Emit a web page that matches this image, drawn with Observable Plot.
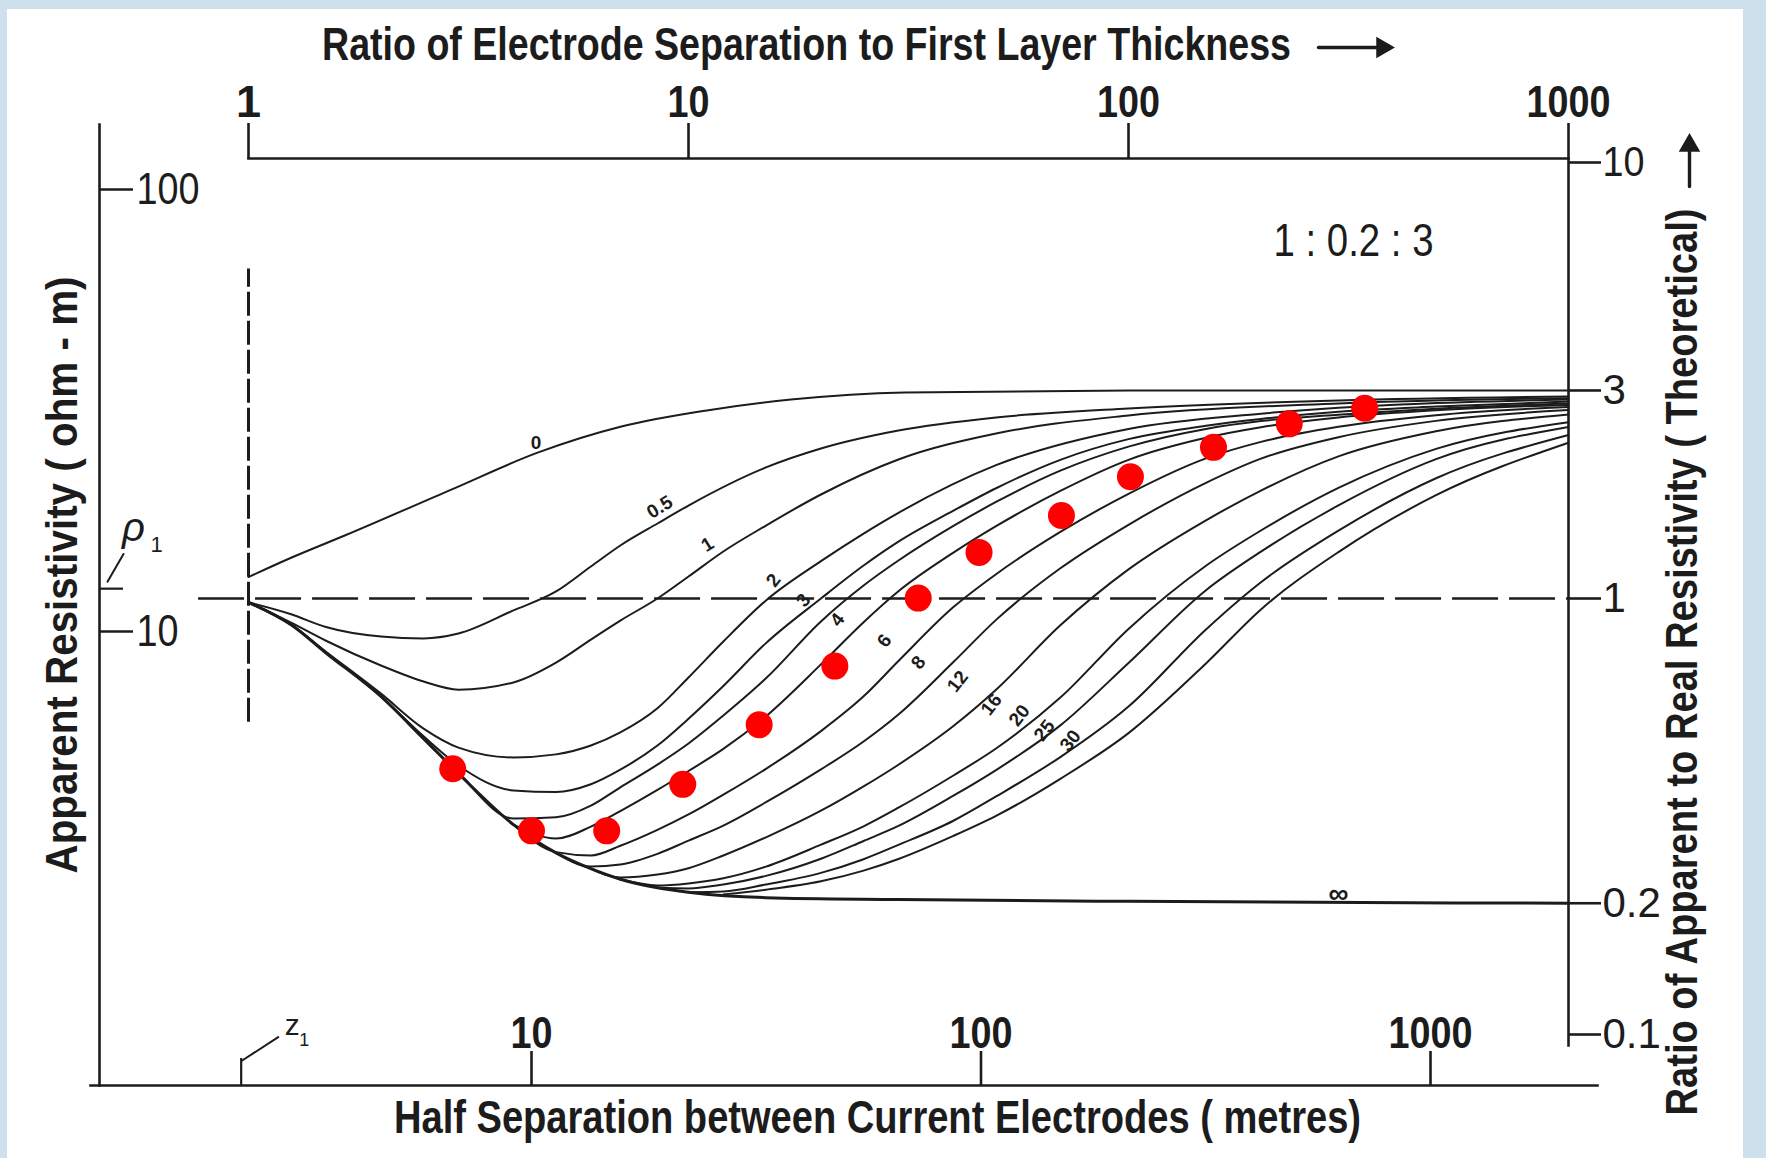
<!DOCTYPE html>
<html><head><meta charset="utf-8">
<script src="https://cdn.jsdelivr.net/npm/d3@7"></script>
<script src="https://cdn.jsdelivr.net/npm/@observablehq/plot@0.6"></script>
<style>
html,body{margin:0;padding:0;background:#cde0eb;}
#wrap{position:relative;width:1766px;height:1158px;overflow:hidden;background:#cde0eb;}
#paper{position:absolute;left:7px;top:9px;width:1736px;height:1149px;background:#fff;}
.layer{position:absolute;left:0;top:0;}
</style></head><body>
<div id="wrap"><div id="paper"></div><div id="theory" class="layer"></div><div id="field" class="layer"></div></div>
<script>
// ---------- axis ticks ----------
const topTicks = [1, 10, 100, 1000];          // ratio of electrode separation to first layer thickness
const rightTicks = [10, 3, 1, 0.2, 0.1];      // ratio of apparent to real resistivity
const bottomTicks = [10, 100, 1000];          // half separation (m)
const leftTicks = [100, 10];                  // apparent resistivity (ohm-m)
const rho1 = 12.5;                            // first layer resistivity (ohm-m)
const z1 = 2.26;                              // first layer thickness (m)

// ---------- theoretical master curves 1 : 0.2 : 3 (x = a/z1, y = rho_a/rho1) ----------
const curve0 = [[1,1.12],[1.25,1.24],[1.67,1.4],[2.9,1.78],[4.54,2.16],[7.04,2.48],[11,2.7],[17.1,2.86],[31,2.97],[100,3.0],[1000,3.0]];
const curveInf = [[1,0.98],[1.25,0.87],[1.5,0.75],[2,0.596],[2.5,0.477],[3,0.397],[4,0.303],[5,0.261],[6,0.24],[7,0.227],[8.5,0.217],[10,0.212],[15,0.206],[30,0.204],[100,0.202],[1000,0.2]];
const curveA = [[1,0.98],[1.25,0.92],[1.5,0.86],[2,0.818],[2.5,0.81],[3,0.831],[4,0.939],[5,1.038],[6,1.184],[7,1.323],[8.5,1.486],[10,1.634],[15,1.998],[20,2.208],[30,2.428],[50,2.601],[100,2.728],[300,2.845],[1000,2.906]];
const curveB = [[1,0.98],[1.25,0.88],[1.5,0.8],[2,0.702],[2.5,0.645],[3,0.618],[4,0.642],[5,0.713],[6,0.805],[7,0.89],[8.5,1.0],[10,1.123],[12,1.282],[15,1.47],[20,1.732],[30,2.084],[50,2.39],[100,2.629],[300,2.801],[1000,2.88]];
const curveC = [[1,0.98],[1.25,0.87],[1.5,0.755],[2,0.605],[2.5,0.503],[3,0.455],[4,0.432],[5,0.439],[6,0.46],[7,0.493],[8.5,0.56],[10,0.659],[12,0.797],[15,0.99],[20,1.218],[25,1.409],[30,1.572],[50,2.022],[100,2.449],[200,2.654],[1000,2.86]];
const curveD = [[1,0.979],[1.25,0.872],[1.5,0.752],[2,0.596],[2.5,0.483],[3,0.414],[4,0.363],[5,0.36],[6,0.375],[7,0.405],[8.5,0.46],[10,0.53],[12,0.63],[15,0.79],[20,1.0],[25,1.19],[30,1.35],[40,1.59],[50,1.79],[70,2.08],[100,2.32],[150,2.49],[200,2.58],[300,2.68],[500,2.755],[1000,2.83]];
const curveE = [[1,0.979],[1.25,0.872],[1.5,0.752],[2,0.596],[2.5,0.477],[3,0.397],[4,0.313],[5,0.315],[6,0.335],[7,0.369],[8.5,0.416],[10,0.465],[12,0.539],[15,0.656],[20,0.886],[25,1.071],[30,1.222],[40,1.467],[50,1.665],[70,1.964],[100,2.23],[150,2.449],[200,2.552],[300,2.64],[500,2.725],[1000,2.8]];
const curveF = [[4,0.303],[5,0.2815],[6,0.2997],[7,0.3253],[8.5,0.3638],[10,0.4021],[12,0.4519],[15,0.5368],[20,0.7061],[25,0.8824],[30,1.039],[40,1.274],[50,1.465],[70,1.765],[100,2.08],[150,2.337],[200,2.471],[300,2.601],[500,2.702],[1000,2.78]];
const curveG = [[4,0.303],[5,0.262],[6,0.2574],[7,0.2709],[8.5,0.2946],[10,0.3196],[12,0.3549],[15,0.4068],[20,0.4965],[25,0.5965],[30,0.7188],[40,0.9556],[50,1.137],[70,1.421],[100,1.738],[150,2.096],[200,2.287],[300,2.477],[500,2.633],[1000,2.751]];
const curveH = [[5,0.261],[6,0.2428],[7,0.2454],[8.5,0.2596],[10,0.2784],[12,0.3014],[15,0.341],[20,0.4055],[25,0.4699],[30,0.5419],[40,0.7149],[50,0.8932],[70,1.173],[100,1.476],[150,1.842],[200,2.093],[300,2.344],[500,2.555],[1000,2.705]];
const curveI = [[6,0.24],[7,0.2291],[8.5,0.2328],[10,0.2407],[12,0.2574],[15,0.2833],[20,0.326],[25,0.3707],[30,0.4157],[40,0.5098],[50,0.6174],[70,0.868],[100,1.166],[150,1.511],[200,1.768],[300,2.118],[500,2.418],[1000,2.642]];
const curveJ = [[7,0.227],[8.5,0.2197],[10,0.2221],[12,0.2282],[15,0.2427],[20,0.2725],[25,0.3003],[30,0.3313],[40,0.3927],[50,0.4529],[70,0.5925],[100,0.8517],[150,1.189],[200,1.432],[300,1.794],[500,2.204],[1000,2.537]];
const curveK = [[8.5,0.217],[10,0.2163],[12,0.2208],[15,0.2311],[20,0.253],[25,0.2779],[30,0.3008],[40,0.3529],[50,0.4041],[70,0.5117],[100,0.7115],[150,1.045],[200,1.281],[300,1.635],[500,2.087],[1000,2.474]];
const curveL = [[10,0.212],[12,0.2128],[15,0.2208],[20,0.2348],[25,0.2524],[30,0.2722],[40,0.3092],[50,0.3515],[70,0.4328],[100,0.565],[150,0.8494],[200,1.09],[300,1.431],[500,1.887],[1000,2.371]];
const curveM = [[12,0.2096],[15,0.2149],[20,0.2246],[25,0.2376],[30,0.2527],[40,0.2855],[50,0.3173],[70,0.3859],[100,0.4912],[150,0.7098],[200,0.9441],[300,1.278],[500,1.726],[1000,2.277]];

// ---------- curve labels (h2/h1) ----------
const labelText = ["0","0.5","1","2","3","4","6","8","12","16","20","25","30","∞"];
const labelX = [4.5, 8.6, 11.05, 15.6, 18.25, 21.8, 27.9, 33.3, 40.9, 48.8, 56.5, 64.4, 73.8, 300];
const labelY = [2.27, 1.62, 1.33, 1.10, 0.99, 0.893, 0.80, 0.713, 0.645, 0.571, 0.539, 0.498, 0.472, 0.2105];

// ---------- field sounding ----------
const fieldSpacing = [6.68, 10, 14.7, 21.7, 32.1, 47.3, 72.5, 99, 151, 215, 329, 485, 714];
const fieldRho = [4.89, 3.54, 3.54, 4.51, 6.15, 8.35, 11.9, 15.1, 18.3, 22.4, 26.1, 29.5, 32.0];

// ---------- build tables ----------
const risingCurves = [["A",curveA],["B",curveB],["C",curveC],["D",curveD],["E",curveE],["F",curveF],["G",curveG],["H",curveH],["I",curveI],["J",curveJ],["K",curveK],["L",curveL],["M",curveM],["0",curve0]];
const curveRows = risingCurves.flatMap(([id, pts]) => pts.map(([x, y]) => ({id, x, y})));
const infRows = curveInf.map(([x, y]) => ({x, y}));
const labelRows = labelText.map((t, i) => ({t, x: labelX[i], y: labelY[i]}));
const fieldRows = fieldSpacing.map((a, i) => ({a, rho: fieldRho[i]}));

const W = 1766, H = 1158;
const ink = "#1c1c1c";
const SANS = '"Liberation Sans",Arial,sans-serif';
const lineShape = {draw(context, l) { context.moveTo(0, 0); context.lineTo(0, -l); }};
const C = {textAnchor: "middle", lineAnchor: "middle"};

const topTitle = "Ratio of Electrode Separation to First Layer Thickness";
const rightTitle = "Ratio of Apparent to Real Resistivity ( Theoretical)";
const bottomTitle = "Half Separation between Current Electrodes ( metres)";
const leftTitle = "Apparent Resistivity ( ohm - m)";
const ratioNote = "1 : 0.2 : 3";

const labelRotate = t => (t === "0" || t === "∞") ? 0 : (t === "0.5" || t === "1") ? -32 : -52;

// ---------- theoretical chart (top / right axes) ----------
const theory = Plot.plot({
  width: W, height: H,
  marginTop: 158, marginRight: 198, marginBottom: 113, marginLeft: 248,
  x: {type: "log", domain: [1, 1000], range: [248, 1568], axis: null},
  y: {type: "log", domain: [10, 0.1], range: [162, 1034], axis: null},
  style: {background: "transparent", color: ink, overflow: "visible"},
  marks: [
    Plot.frame({anchor: "top", stroke: ink, strokeWidth: 2.6}),
    Plot.frame({anchor: "right", stroke: ink, strokeWidth: 2.6}),
    Plot.axisX({anchor: "top", ticks: topTicks, tickSize: 36, tickPadding: 6, strokeWidth: 2.6,
      tickFormat: d => String(d), fontSize: 45, fontFamily: SANS, fontWeight: "bold", label: null}),
    Plot.axisY({anchor: "right", ticks: rightTicks, tickSize: 32, tickPadding: 2, strokeWidth: 2.6,
      tickFormat: d => String(d), fontSize: 42, fontFamily: SANS, label: null}),
    Plot.ruleY([1], {x1: 0.77, x2: 1000, stroke: ink, strokeWidth: 2.4, strokeDasharray: "46,11"}),
    Plot.ruleX([1], {y1: 0.52, y2: 5.7, stroke: ink, strokeWidth: 3, strokeDasharray: "24,5"}),
    Plot.line(curveRows, {x: "x", y: "y", z: "id", curve: "monotone-x", stroke: ink, strokeWidth: 2}),
    Plot.line(infRows, {x: "x", y: "y", curve: "monotone-x", stroke: ink, strokeWidth: 3}),
    Plot.text(labelRows, {x: "x", y: "y", text: "t", rotate: d => labelRotate(d.t), fontSize: d => d.t === "∞" ? 28 : 19, fontWeight: "bold", fontFamily: SANS, fill: ink}),
    Plot.text([ratioNote], {...C, frameAnchor: "top-right", dx: -215, dy: 83, fontSize: 46, fontFamily: SANS, fill: ink}),
    Plot.text([topTitle], {...C, frameAnchor: "top", dx: -102, dy: -113, fontSize: 46, fontFamily: SANS, fontWeight: "bold", fill: ink}),
    Plot.vector([0], {frameAnchor: "top-right", dx: -250, dy: -111, length: 58, rotate: 90, anchor: "start", shape: lineShape, stroke: ink, strokeWidth: 3.4}),
    Plot.dot([0], {frameAnchor: "top-right", dx: -186, dy: -111, symbol: "triangle", rotate: 90, r: 8, fill: ink, stroke: "none"}),
    Plot.text([rightTitle], {...C, frameAnchor: "right", dx: 114, dy: 60, rotate: -90, fontSize: 44, fontFamily: SANS, fontWeight: "bold", fill: ink}),
    Plot.vector([0], {frameAnchor: "top-right", dx: 121, dy: 28, length: 38, rotate: 0, anchor: "start", shape: lineShape, stroke: ink, strokeWidth: 3.4}),
    Plot.dot([0], {frameAnchor: "top-right", dx: 121, dy: -13, symbol: "triangle", rotate: 0, r: 8, fill: ink, stroke: "none"})
  ]
});

// ---------- field chart (bottom / left axes) ----------
const frameW = W - 99 - 169, frameH = H - 124 - 73;
const field = Plot.plot({
  width: W, height: H,
  marginTop: 124, marginRight: 169, marginBottom: 73, marginLeft: 99,
  x: {type: "log", domain: [10, 1000], range: [531, 1430], axis: null},
  y: {type: "log", domain: [100, 10], range: [189, 631], axis: null},
  style: {background: "transparent", color: ink, overflow: "visible"},
  marks: [
    Plot.frame({anchor: "left", stroke: ink, strokeWidth: 2.6}),
    Plot.frame({anchor: "bottom", stroke: ink, strokeWidth: 2.6, insetLeft: -9}),
    Plot.ruleX(bottomTicks, {x: d => d, insetTop: frameH - 34, stroke: ink, strokeWidth: 2.6}),
    Plot.text(bottomTicks, {...C, x: d => d, frameAnchor: "bottom", dy: -52, text: d => String(d), fontSize: 45, fontFamily: SANS, fontWeight: "bold", fill: ink}),
    Plot.ruleY(leftTicks, {y: d => d, insetRight: frameW - 34, stroke: ink, strokeWidth: 2.6}),
    Plot.text(leftTicks, {y: d => d, frameAnchor: "left", dx: 37, textAnchor: "start", lineAnchor: "middle", text: d => String(d), fontSize: 44, fontFamily: SANS, fill: ink}),
    Plot.ruleY([rho1], {y: d => d, insetRight: frameW - 24, stroke: ink, strokeWidth: 2.2}),
    Plot.vector([rho1], {y: d => d, frameAnchor: "left", dx: 8, dy: -7, length: 32, rotate: 30, anchor: "start", shape: lineShape, stroke: ink, strokeWidth: 2}),
    Plot.text([rho1], {...C, y: d => d, frameAnchor: "left", dx: 34, dy: -60, text: () => "ρ", fontStyle: "italic", fontSize: 40, fontFamily: SANS, fill: ink}),
    Plot.text([rho1], {...C, y: d => d, frameAnchor: "left", dx: 57, dy: -44, text: () => "1", fontSize: 22, fontFamily: SANS, fill: ink}),
    Plot.ruleX([z1], {x: d => d, insetTop: frameH - 27, stroke: ink, strokeWidth: 2.2}),
    Plot.vector([z1], {x: d => d, frameAnchor: "bottom", dx: 1, dy: -25, length: 43, rotate: 57, anchor: "start", shape: lineShape, stroke: ink, strokeWidth: 2}),
    Plot.text([z1], {...C, x: d => d, frameAnchor: "bottom", dx: 51, dy: -60, text: () => "z", fontSize: 30, fontFamily: SANS, fill: ink}),
    Plot.text([z1], {...C, x: d => d, frameAnchor: "bottom", dx: 63, dy: -45, text: () => "1", fontSize: 18, fontFamily: SANS, fill: ink}),
    Plot.dot(fieldRows, {x: "a", y: "rho", r: 13.5, fill: "#ff0000", stroke: "none"}),
    Plot.text([bottomTitle], {...C, frameAnchor: "bottom", dx: 29, dy: 33, fontSize: 46, fontFamily: SANS, fontWeight: "bold", fill: ink}),
    Plot.text([leftTitle], {...C, frameAnchor: "left", dx: -37, dy: -30, rotate: -90, fontSize: 44, fontFamily: SANS, fontWeight: "bold", fill: ink})
  ]
});

document.getElementById("theory").append(theory);
document.getElementById("field").append(field);

function fit(svg, str, len) {
  d3.select(svg).selectAll("text").filter(function() { return this.textContent === str; })
    .attr("textLength", len).attr("lengthAdjust", "spacingAndGlyphs");
}
function squeeze(svg, strs, perChar) {
  d3.select(svg).selectAll("text").filter(function() { return strs.includes(this.textContent); })
    .each(function() { d3.select(this).attr("textLength", perChar * this.textContent.length).attr("lengthAdjust", "spacingAndGlyphs"); });
}
fit(theory, topTitle, 969);
fit(theory, rightTitle, 907);
fit(theory, ratioNote, 160);
fit(field, bottomTitle, 967);
fit(field, leftTitle, 597);
squeeze(theory, ["10", "100", "1000"], 21);
squeeze(field, ["10", "100", "1000"], 21);
</script>
</body></html>
